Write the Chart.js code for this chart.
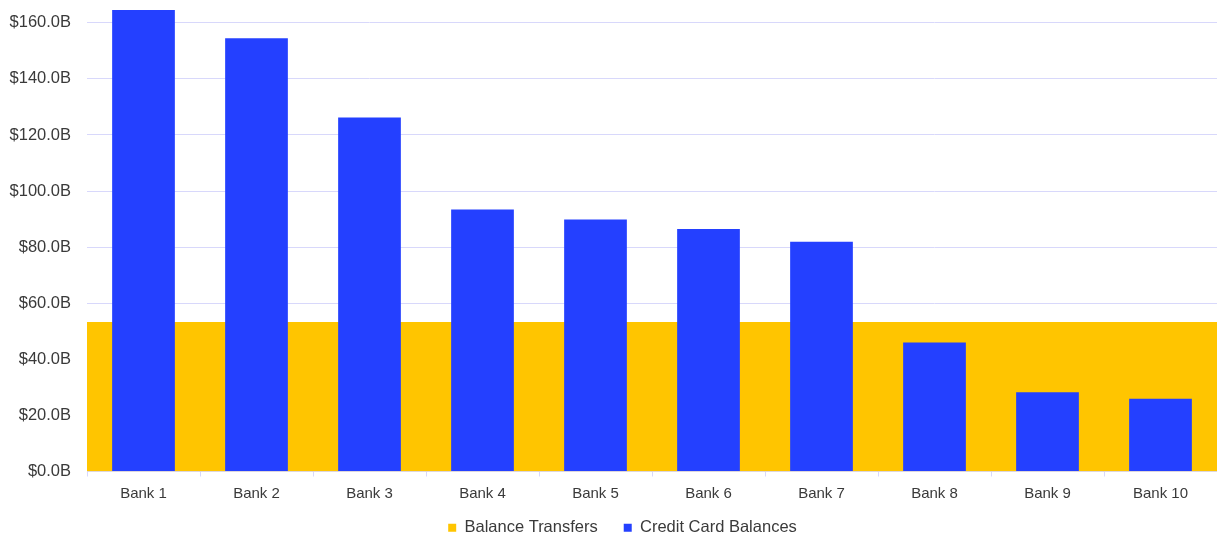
<!DOCTYPE html>
<html>
<head>
<meta charset="utf-8">
<script src="https://cdn.jsdelivr.net/npm/chart.js@4/dist/chart.umd.min.js"></script>
<style>
html,body{margin:0;padding:0;background:#fff;}
#wrap{width:1217px;height:538px;position:relative;}
</style>
</head>
<body>
<div id="wrap"><canvas id="c"></canvas></div>
<script>
const categories = ["Bank 1","Bank 2","Bank 3","Bank 4","Bank 5","Bank 6","Bank 7","Bank 8","Bank 9","Bank 10"];
const creditCardBalances = [164.6, 154.5, 126.2, 93.4, 89.9, 86.5, 81.9, 46.0, 28.3, 25.9];
const balanceTransfers = [53.2, 53.2, 53.2, 53.2, 53.2, 53.2, 53.2, 53.2, 53.2, 53.2];
const yTickStep = 20;
const yMax = 166;

const textColor = '#3a3a3a';
const gridColor = '#d8d8fb';
const fontFamily = '"Liberation Sans", Arial, sans-serif';

const layoutTweaks = {
  id: 'layoutTweaks',
  beforeDraw(chart) {
    chart.scales.x.bottom = chart.height;
    if (chart.legend) {
      chart.legend.left = 14;
      chart.legend.right = chart.width + 14;
    }
  }
};

new Chart(document.getElementById('c'), {
  type: 'bar',
  data: {
    labels: categories,
    datasets: [
      {
        label: 'Credit Card Balances',
        data: creditCardBalances,
        backgroundColor: '#2440ff',
        borderWidth: 0,
        grouped: false,
        barPercentage: 0.555,
        categoryPercentage: 1.0
      },
      {
        label: 'Balance Transfers',
        data: balanceTransfers,
        backgroundColor: '#ffc500',
        borderWidth: 0,
        grouped: false,
        barPercentage: 1.0,
        categoryPercentage: 1.0
      }
    ]
  },
  plugins: [layoutTweaks],
  options: {
    responsive: true,
    maintainAspectRatio: false,
    animation: false,
    layout: { padding: { left: 0, right: 0, top: 6, bottom: -8 } },
    plugins: {
      tooltip: { enabled: false },
      legend: {
        position: 'bottom',
        labels: {
          sort: (a, b) => b.datasetIndex - a.datasetIndex,
          boxWidth: 8,
          boxHeight: 8,
          padding: 26,
          color: textColor,
          font: { family: fontFamily, size: 16.5 }
        }
      }
    },
    scales: {
      x: {
        grid: { display: true, drawOnChartArea: false, drawTicks: true, tickLength: 5, color: gridColor, offset: true },
        border: { display: true, color: gridColor },
        ticks: {
          color: textColor,
          padding: 8,
          font: { family: fontFamily, size: 15 }
        },
        afterFit: s => { s.height = 22; s.paddingLeft = 0; s.paddingRight = 0; }
      },
      y: {
        min: 0,
        max: yMax,
        grid: { color: gridColor, drawTicks: false, lineWidth: 1 },
        border: { display: false },
        ticks: {
          stepSize: yTickStep,
          includeBounds: false,
          padding: 16,
          color: textColor,
          font: { family: fontFamily, size: 16.5 },
          callback: v => '$' + Number(v).toFixed(1) + 'B'
        },
        afterFit: s => { s.width = 87; s.paddingTop = 0; s.paddingBottom = 0; }
      }
    }
  }
});
</script>
</body>
</html>
